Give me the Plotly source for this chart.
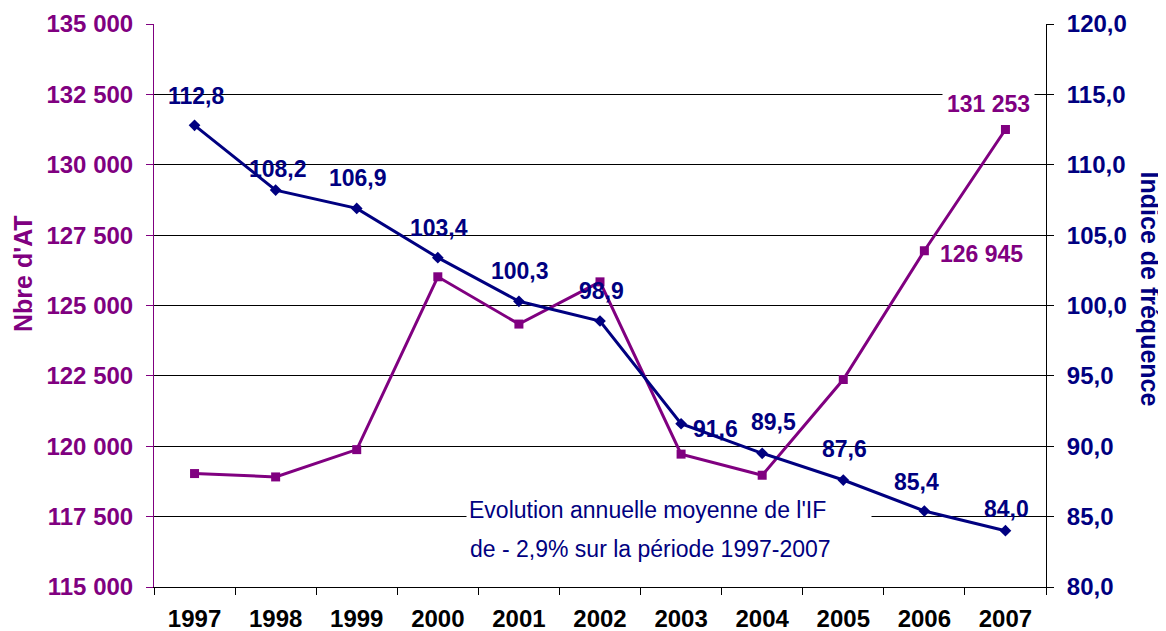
import plotly.graph_objects as go

# ---- data ----
years = ["1997", "1998", "1999", "2000", "2001", "2002", "2003", "2004", "2005", "2006", "2007"]
nb_at = [119030, 118910, 119880, 126020, 124340, 125840, 119720, 118970, 122370, 126945, 131253]
indice_freq = [112.8, 108.2, 106.9, 103.4, 100.3, 98.9, 91.6, 89.5, 87.6, 85.4, 84.0]

left_tickvals = [115000, 117500, 120000, 122500, 125000, 127500, 130000, 132500, 135000]
left_ticktext = ["115 000", "117 500", "120 000", "122 500", "125 000", "127 500", "130 000", "132 500", "135 000"]
right_tickvals = [80, 85, 90, 95, 100, 105, 110, 115, 120]
right_ticktext = ["80,0", "85,0", "90,0", "95,0", "100,0", "105,0", "110,0", "115,0", "120,0"]

# labelled points of the purple series (index, text)
nb_labels = [(9, "126 945"), (10, "131 253")]
note_lines = ["Evolution annuelle moyenne de l'IF", "de - 2,9% sur la période 1997-2007"]

# ---- style ----
PURPLE = "#800080"
NAVY = "#000080"
FONT = "Arial, Liberation Sans, sans-serif"
FS = 23
TFS = 24
TITLE_FS = 25

# label offsets (px) for blue labels
blue_shift = [(1, 29), (2, 21), (1, 30), (1, 30), (1, 30), (1, 30), (34, -5), (11, 31), (1, 31), (-8, 29), (1, 22)]
nb_shift = {9: (57, -3), 10: (-17, 25)}

fig = go.Figure()
fig.add_trace(go.Scatter(
    x=years, y=nb_at, mode="lines+markers", yaxis="y",
    line=dict(color=PURPLE, width=3),
    marker=dict(symbol="square", size=9, color=PURPLE),
    showlegend=False, hoverinfo="skip"))
fig.add_trace(go.Scatter(
    x=years, y=indice_freq, mode="lines+markers", yaxis="y2",
    line=dict(color=NAVY, width=3),
    marker=dict(symbol="diamond", size=9, color=NAVY),
    showlegend=False, hoverinfo="skip"))

annotations = []
for i, v in enumerate(indice_freq):
    dx, dy = blue_shift[i]
    annotations.append(dict(
        x=i, y=v, xref="x", yref="y2", text=f"{v:.1f}".replace(".", ","),
        showarrow=False, xshift=dx, yshift=dy, xanchor="center", yanchor="middle",
        font=dict(family=FONT, size=FS, color=NAVY, weight="bold")))
for idx, txt in nb_labels:
    dx, dy = nb_shift[idx]
    ann = dict(
        x=idx, y=nb_at[idx], xref="x", yref="y", text=txt,
        showarrow=False, xshift=dx, yshift=dy, xanchor="center", yanchor="middle",
        borderpad=4,
        font=dict(family=FONT, size=FS, color=PURPLE, weight="bold"))
    if idx == 10:
        ann["bgcolor"] = "white"
    annotations.append(ann)

# note box
annotations.append(dict(
    x=0.3498, y=0.1368, xref="paper", yref="paper", xanchor="left", yanchor="middle",
    text=note_lines[0], showarrow=False, bgcolor="white", borderpad=2,
    width=400, align="left",
    font=dict(family=FONT, size=FS, color=NAVY)))
annotations.append(dict(
    x=0.3520, y=0.0675, xref="paper", yref="paper", xanchor="left", yanchor="middle",
    text=note_lines[1], showarrow=False,
    font=dict(family=FONT, size=FS, color=NAVY)))

# axis titles
annotations.append(dict(
    x=-0.1469, y=0.5577, xref="paper", yref="paper", text="Nbre d'AT", textangle=-90,
    xanchor="center", yanchor="middle",
    showarrow=False, font=dict(family=FONT, size=TITLE_FS, color=PURPLE, weight="bold")))
annotations.append(dict(
    x=1.1166, y=0.530, xref="paper", yref="paper", text="Indice de fréquence", textangle=90,
    xanchor="center", yanchor="middle",
    showarrow=False, font=dict(family=FONT, size=TITLE_FS, color=NAVY, weight="bold")))

fig.update_layout(
    width=1158, height=623,
    margin=dict(l=146, r=120, t=16, b=44),
    paper_bgcolor="white", plot_bgcolor="white",
    showlegend=False,
    xaxis=dict(
        type="category", range=[-0.5, 10.5], tickson="boundaries", automargin=False,
        ticks="outside", ticklen=7, tickcolor="black",
        showline=True, linecolor="black", linewidth=1, showgrid=False,
        ticklabelstandoff=10,
        tickfont=dict(family=FONT, size=TFS, color="black", weight="bold")),
    yaxis=dict(
        range=[115000, 135000], tickvals=left_tickvals, ticktext=left_ticktext,
        automargin=False,
        showgrid=True, gridcolor="black", gridwidth=1, zeroline=False,
        showline=True, linecolor=PURPLE, linewidth=1,
        ticks="outside", ticklen=7, tickcolor=PURPLE, ticklabelstandoff=8,
        tickfont=dict(family=FONT, size=TFS, color=PURPLE, weight="bold")),
    yaxis2=dict(
        range=[80, 120], tickvals=right_tickvals, ticktext=right_ticktext,
        automargin=False,
        overlaying="y", side="right", showgrid=False, zeroline=False,
        showline=True, linecolor="black", linewidth=1,
        ticks="outside", ticklen=7, tickcolor="black", ticklabelstandoff=8,
        tickfont=dict(family=FONT, size=TFS, color=NAVY, weight="bold")),
    annotations=annotations,
)

fig.write_html("out.html")
